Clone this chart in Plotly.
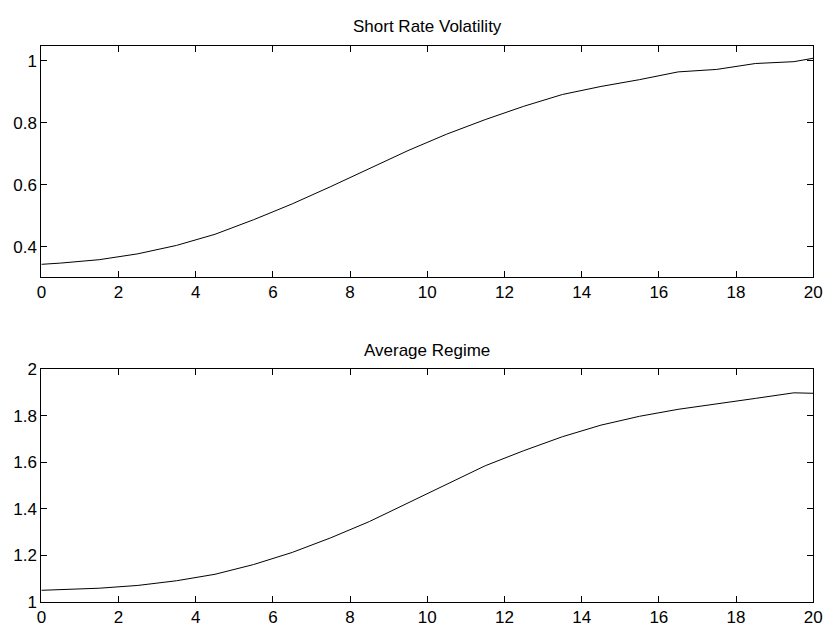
import plotly.graph_objects as go
from plotly.subplots import make_subplots

horizon = [0, 0.5, 1.5, 2.5, 3.5, 4.5, 5.5, 6.5, 7.5, 8.5, 9.5, 10.5, 11.5,
           12.5, 13.5, 14.5, 15.5, 16.5, 17.5, 18.5, 19.5, 20]
short_rate_vol = [0.343, 0.347, 0.358, 0.377, 0.404, 0.440, 0.487, 0.538, 0.594,
                  0.653, 0.710, 0.763, 0.810, 0.853, 0.891, 0.917, 0.939, 0.964,
                  0.972, 0.991, 0.997, 1.008]
avg_regime = [1.049, 1.051, 1.058, 1.070, 1.090, 1.118, 1.160, 1.212, 1.275,
              1.345, 1.425, 1.508, 1.585, 1.650, 1.710, 1.760, 1.798, 1.828,
              1.853, 1.875, 1.899, 1.897]

titles = ["Short Rate Volatility", "Average Regime"]
x_ticks = [0, 2, 4, 6, 8, 10, 12, 14, 16, 18, 20]
top_ticks = [0.4, 0.6, 0.8, 1]
bottom_ticks = [1, 1.2, 1.4, 1.6, 1.8, 2]

W, H = 833, 634
fig = make_subplots(rows=2, cols=1)
fig.add_trace(go.Scatter(x=horizon, y=short_rate_vol, mode="lines",
                         line=dict(color="black", width=1)), row=1, col=1)
fig.add_trace(go.Scatter(x=horizon, y=avg_regime, mode="lines",
                         line=dict(color="black", width=1)), row=2, col=1)

font = dict(family="Liberation Sans, Arial, Helvetica, sans-serif", size=17, color="black")
tick_font = dict(family="Liberation Sans, Arial, Helvetica, sans-serif", size=17, color="black")
axis_common = dict(showgrid=False, zeroline=False, showline=True, linecolor="black",
                   linewidth=1, mirror="ticks", ticks="inside", ticklen=6,
                   tickcolor="black", tickwidth=1, tickfont=tick_font)

def fy(px):
    return 1 - px / H

fig.update_xaxes(range=[0, 20], tickvals=x_ticks, domain=[37 / W, 822 / W],
                 ticklabelstandoff=0, **axis_common)
fig.update_yaxes(ticklabelstandoff=0, **axis_common)
fig.update_yaxes(range=[0.303, 1.048], tickvals=top_ticks, ticktext=["0.4", "0.6", "0.8", "1"],
                 domain=[fy(276), fy(38)], row=1, col=1)
fig.update_yaxes(range=[1, 2], tickvals=bottom_ticks,
                 ticktext=["1", "1.2", "1.4", "1.6", "1.8", "2"],
                 domain=[fy(611), fy(371.5)], row=2, col=1)

fig.add_annotation(text=titles[0], x=(37 + 822) / 2 / W, y=fy(18), xref="paper", yref="paper",
                   showarrow=False, font=font, xanchor="center", yanchor="middle")
fig.add_annotation(text=titles[1], x=(37 + 822) / 2 / W, y=fy(352), xref="paper", yref="paper",
                   showarrow=False, font=font, xanchor="center", yanchor="middle")

fig.update_layout(width=W, height=H, margin=dict(l=0, r=0, t=0, b=0),
                  plot_bgcolor="white", paper_bgcolor="white", showlegend=False, font=font)
fig.write_html("out.html")
